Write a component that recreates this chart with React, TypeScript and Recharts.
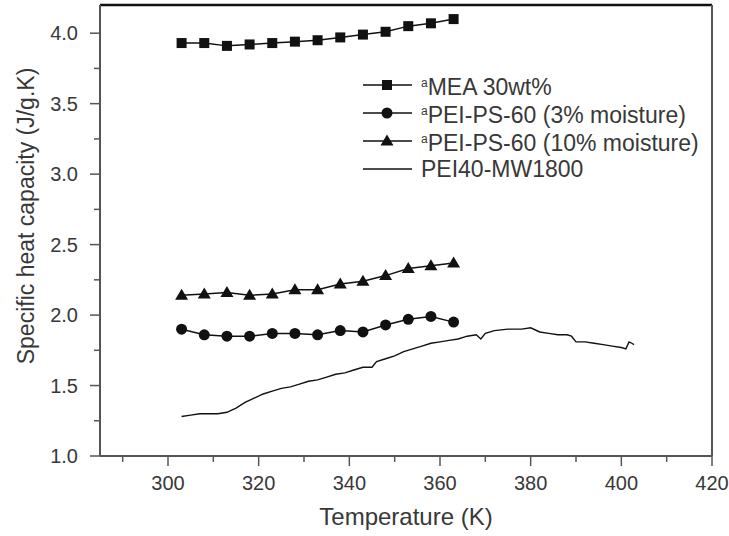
import React from "react"
import { Legend, Line, LineChart, ReferenceLine, XAxis, YAxis } from "recharts"

// temperatures of the marker series (K)
const temps = [303, 308, 313, 318, 323, 328, 333, 338, 343, 348, 353, 358, 363]
const meaCp = [3.93, 3.93, 3.91, 3.92, 3.93, 3.94, 3.95, 3.97, 3.99, 4.01, 4.05, 4.07, 4.1]
const pei3Cp = [1.9, 1.86, 1.85, 1.85, 1.87, 1.87, 1.86, 1.89, 1.88, 1.93, 1.97, 1.99, 1.95]
const pei10Cp = [2.14, 2.15, 2.16, 2.14, 2.15, 2.18, 2.18, 2.22, 2.24, 2.28, 2.33, 2.35, 2.37]

// continuous curve PEI40-MW1800
const pei40T = [
  303, 305, 307, 309, 311, 313, 315, 317, 319, 321, 323, 325, 327, 329, 331, 333, 335, 337, 339,
  341, 343, 345, 346, 348, 350, 352, 354, 356, 358, 360, 362, 364, 366, 368, 369, 370, 372, 375,
  378, 380, 382, 384, 386, 388, 389, 390, 392, 394, 396, 398, 400, 401, 401.7, 402.3, 402.8,
]
const pei40Cp = [
  1.28, 1.29, 1.3, 1.3, 1.3, 1.31, 1.34, 1.38, 1.41, 1.44, 1.46, 1.48, 1.49, 1.51, 1.53, 1.54, 1.56,
  1.58, 1.59, 1.61, 1.63, 1.63, 1.67, 1.69, 1.71, 1.74, 1.76, 1.78, 1.8, 1.81, 1.82, 1.83, 1.85,
  1.86, 1.83, 1.87, 1.89, 1.9, 1.9, 1.91, 1.88, 1.87, 1.86, 1.86, 1.85, 1.81, 1.81, 1.8, 1.79, 1.78,
  1.77, 1.76, 1.81, 1.8, 1.79,
]

const xTicks = [290, 300, 310, 320, 330, 340, 350, 360, 370, 380, 390, 400, 410, 420]
const yTicks = [1.0, 1.25, 1.5, 1.75, 2.0, 2.25, 2.5, 2.75, 3.0, 3.25, 3.5, 3.75, 4.0]

const legendItems = [
  { name: "MEA 30wt%", sup: true, marker: "square" },
  { name: "PEI-PS-60 (3% moisture)", sup: true, marker: "circle" },
  { name: "PEI-PS-60 (10% moisture)", sup: true, marker: "triangle" },
  { name: "PEI40-MW1800", sup: false, marker: "none" },
]

const meaData = temps.map((t, i) => ({ t, cp: meaCp[i] }))
const pei3Data = temps.map((t, i) => ({ t, cp: pei3Cp[i] }))
const pei10Data = temps.map((t, i) => ({ t, cp: pei10Cp[i] }))
const pei40Data = pei40T.map((t, i) => ({ t, cp: pei40Cp[i] }))

const FONT = "'Liberation Sans', Arial, sans-serif"
const TEXT = "#383838"
const AXIS = "#555"
const MARK = "#111"

function markerShape(kind: string, cx: number, cy: number, key?: string) {
  if (kind === "square") return <rect key={key} x={cx - 5} y={cy - 5} width={10} height={10} fill={MARK} />
  if (kind === "circle") return <circle key={key} cx={cx} cy={cy} r={5.5} fill={MARK} />
  if (kind === "triangle")
    return <polygon key={key} points={`${cx},${cy - 6.5} ${cx - 6.5},${cy + 4.5} ${cx + 6.5},${cy + 4.5}`} fill={MARK} />
  return null
}

const dot = (kind: string) => (props: any) => markerShape(kind, props.cx, props.cy, `${kind}-${props.index}`)

function XTick(props: any) {
  const { x, y, payload } = props
  const major = payload.value % 20 === 0
  return (
    <g>
      <line x1={x} y1={y} x2={x} y2={y + (major ? 10 : 6)} stroke={AXIS} strokeWidth={1.5} />
      {major && (
        <text x={x} y={y + 34} textAnchor="middle" fontSize={20} fill={TEXT} fontFamily={FONT}>
          {payload.value}
        </text>
      )}
    </g>
  )
}

function YTick(props: any) {
  const { x, y, payload } = props
  const major = Math.abs(payload.value * 2 - Math.round(payload.value * 2)) < 1e-6
  return (
    <g>
      <line x1={x - (major ? 10 : 6)} y1={y} x2={x} y2={y} stroke={AXIS} strokeWidth={1.5} />
      {major && (
        <text x={x - 22} y={y} dy="0.36em" textAnchor="end" fontSize={20} fill={TEXT} fontFamily={FONT}>
          {payload.value.toFixed(1)}
        </text>
      )}
    </g>
  )
}

function renderLegend() {
  return (
    <div style={{ fontFamily: FONT, color: TEXT, fontSize: 23 }}>
      {legendItems.map((item) => (
        <div key={item.name} style={{ display: "flex", alignItems: "center", height: 28 }}>
          <svg width={50} height={20} style={{ flex: "none" }}>
            <line x1={0} y1={10} x2={49} y2={10} stroke={MARK} strokeWidth={1.5} />
            {markerShape(item.marker, 24, 10)}
          </svg>
          <span style={{ marginLeft: 8, whiteSpace: "nowrap", lineHeight: "28px" }}>
            {item.sup && <sup style={{ fontSize: 12, verticalAlign: "8px" }}>a</sup>}
            {item.name}
          </span>
        </div>
      ))}
    </div>
  )
}

export default function App() {
  return (
    <div style={{ position: "absolute", left: 0, top: 0, background: "#fff" }}>
      <LineChart width={729} height={536} margin={{ top: 5, right: 17, left: 0, bottom: 0 }}>
        <XAxis
          type="number"
          dataKey="t"
          domain={[285, 420]}
          ticks={xTicks}
          interval={0}
          tickSize={0}
          tickMargin={0}
          tickLine={false}
          tick={<XTick />}
          height={80}
          axisLine={{ stroke: AXIS, strokeWidth: 2 }}
          label={{
            content: (p: any) => (
              <text
                x={p.viewBox.x + p.viewBox.width / 2}
                y={525}
                textAnchor="middle"
                fontSize={24}
                fill={TEXT}
                fontFamily={FONT}
              >
                Temperature (K)
              </text>
            ),
          }}
        />
        <YAxis
          type="number"
          domain={[1.0, 4.2]}
          ticks={yTicks}
          interval={0}
          tickSize={0}
          tickMargin={0}
          tickLine={false}
          tick={<YTick />}
          width={100}
          axisLine={{ stroke: AXIS, strokeWidth: 2 }}
          label={{
            content: () => (
              <text
                x={26}
                y={216}
                transform="rotate(-90, 26, 216)"
                textAnchor="middle"
                dominantBaseline="central"
                fontSize={23}
                fill={TEXT}
                fontFamily={FONT}
              >
                Specific heat capacity (J/g.K)
              </text>
            ),
          }}
        />
        <ReferenceLine y={4.2} stroke="#111" strokeWidth={2.5} />
        <ReferenceLine x={420} stroke={AXIS} strokeWidth={2} />
        <Legend
          layout="horizontal"
          verticalAlign="middle"
          align="center"
          content={renderLegend}
          wrapperStyle={{ top: 71, left: 363, width: 360, height: 112 }}
        />
        <Line data={meaData} dataKey="cp" stroke={MARK} strokeWidth={1.5} dot={dot("square")} isAnimationActive={false} legendType="none" />
        <Line data={pei3Data} dataKey="cp" stroke={MARK} strokeWidth={1.5} dot={dot("circle")} isAnimationActive={false} legendType="none" />
        <Line data={pei10Data} dataKey="cp" stroke={MARK} strokeWidth={1.5} dot={dot("triangle")} isAnimationActive={false} legendType="none" />
        <Line data={pei40Data} dataKey="cp" stroke={MARK} strokeWidth={1.4} dot={false} isAnimationActive={false} legendType="none" />
      </LineChart>
    </div>
  )
}
